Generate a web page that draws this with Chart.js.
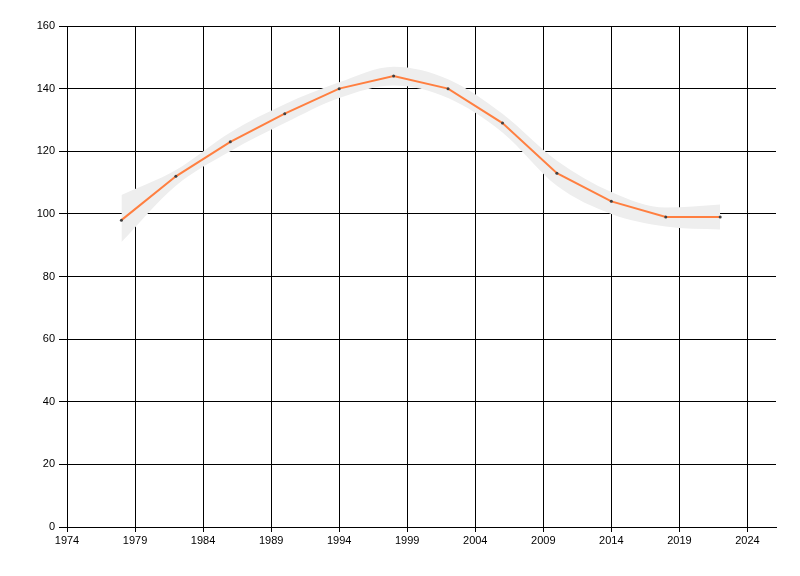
<!DOCTYPE html>
<html>
<head>
<meta charset="utf-8">
<script src="https://cdn.jsdelivr.net/npm/chart.js@4/dist/chart.umd.min.js"></script>
<style>
  html, body { margin: 0; padding: 0; background: #fff; }
  #wrap { width: 800px; height: 576px; }
</style>
</head>
<body>
<div id="wrap"><canvas id="chart"></canvas></div>
<script>
// Data
const years = [1978, 1982, 1986, 1990, 1994, 1998, 2002, 2006, 2010, 2014, 2018, 2022];
const values = [98, 112, 123, 132, 140, 144, 140, 129, 113, 104, 99, 99];
const bandLow = [91, 109, 120, 129, 137, 141, 137, 126, 109, 100, 96, 95];
const bandHigh = [106, 114, 126, 135, 142, 147, 143, 132, 117, 107, 102, 103];
const xTicks = [1974, 1979, 1984, 1989, 1994, 1999, 2004, 2009, 2014, 2019, 2024];
const yTicks = [0, 20, 40, 60, 80, 100, 120, 140, 160];

const toPoints = arr => years.map((y, i) => ({ x: y, y: arr[i] }));
const tickFont = { family: "'Liberation Sans', Arial, sans-serif", size: 11 };

const ctx = document.getElementById('chart').getContext('2d');
new Chart(ctx, {
    type: 'line',
    data: {
        datasets: [
            {
                label: 'low',
                data: toPoints(bandLow),
                order: 2,
                borderWidth: 0,
                pointRadius: 0,
                cubicInterpolationMode: 'monotone',
                fill: false
            },
            {
                label: 'high',
                data: toPoints(bandHigh),
                order: 1,
                borderWidth: 0,
                pointRadius: 0,
                cubicInterpolationMode: 'monotone',
                backgroundColor: '#eeeeee',
                fill: '-1'
            },
            {
                label: 'value',
                data: toPoints(values),
                order: 0,
                borderColor: '#ff7f40',
                borderWidth: 2,
                tension: 0,
                pointRadius: 1.5,
                pointBorderWidth: 0,
                pointBackgroundColor: '#404040',
                fill: false
            }
        ]
    },
    options: {
        responsive: true,
        maintainAspectRatio: false,
        animation: false,
        layout: {
            padding: { left: 0, right: 24, top: 26, bottom: 0 }
        },
        plugins: {
            legend: { display: false },
            tooltip: { enabled: false }
        },
        scales: {
            x: {
                type: 'linear',
                min: 1974,
                max: 2026.1,
                afterBuildTicks: scale => {
                    scale.ticks = xTicks.map(v => ({ value: v }));
                },
                afterFit: scale => { scale.height = 49; },
                grid: {
                    color: '#000',
                    lineWidth: 1,
                    tickLength: 5
                },
                border: { color: '#000', width: 1 },
                ticks: {
                    color: '#000',
                    font: tickFont,
                    padding: 2,
                    maxRotation: 0,
                    autoSkip: false,
                    callback: v => String(v)
                }
            },
            y: {
                min: 0,
                max: 160,
                afterBuildTicks: scale => {
                    scale.ticks = yTicks.map(v => ({ value: v }));
                },
                afterFit: scale => { scale.width = 67; },
                grid: {
                    color: '#000',
                    lineWidth: 1,
                    tickLength: 8
                },
                border: { color: '#000', width: 1 },
                ticks: {
                    color: '#000',
                    font: tickFont,
                    padding: 4,
                    autoSkip: false
                }
            }
        }
    }
});
</script>
</body>
</html>
